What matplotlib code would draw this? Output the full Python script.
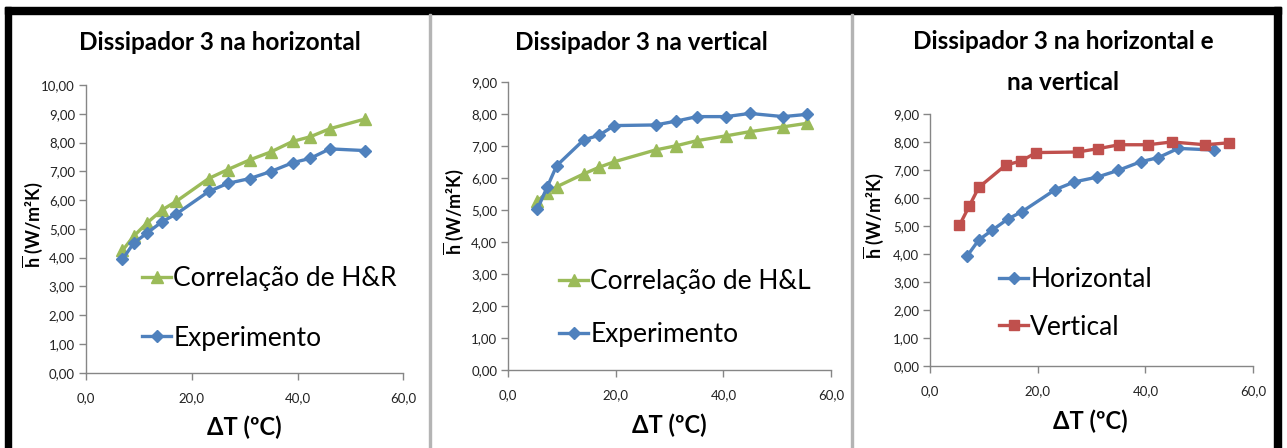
import matplotlib
matplotlib.use("Agg")
import matplotlib.pyplot as plt
from matplotlib.ticker import FuncFormatter, MultipleLocator
from matplotlib.patches import Rectangle

plt.rcParams['font.family'] = ['Lato', 'DejaVu Sans']
plt.rcParams['mathtext.fontset'] = 'custom'
plt.rcParams['mathtext.rm'] = 'Lato'
plt.rcParams['mathtext.bf'] = 'Lato:bold'

# ---- data ----
dt_horiz = [6.9, 9.0, 11.5, 14.4, 17.1, 23.2, 26.8, 31.0, 34.9, 39.1, 42.4, 46.1, 52.8]
h_exp_horiz = [3.94, 4.50, 4.85, 5.25, 5.52, 6.30, 6.58, 6.75, 6.99, 7.30, 7.45, 7.78, 7.72]
h_hr_horiz = [4.25, 4.74, 5.20, 5.66, 5.96, 6.75, 7.06, 7.40, 7.67, 8.04, 8.20, 8.48, 8.82]

dt_vert = [5.4, 7.2, 9.0, 14.0, 16.9, 19.7, 27.4, 31.2, 35.1, 40.5, 44.9, 51.1, 55.5]
h_exp_vert = [5.02, 5.70, 6.38, 7.18, 7.33, 7.63, 7.65, 7.77, 7.91, 7.91, 8.01, 7.91, 7.98]
h_hl_vert = [5.28, 5.53, 5.72, 6.12, 6.33, 6.50, 6.87, 7.00, 7.16, 7.31, 7.44, 7.59, 7.70]

titles = ["Dissipador 3 na horizontal",
          "Dissipador 3 na vertical",
          "Dissipador 3 na horizontal e\nna vertical"]
xlabel = "ΔT (ºC)"
ylabel = r"$\overline{\mathbf{h}}$ (W/m²K)"

BLUE = "#4F81BD"
GREEN = "#9BBB59"
RED = "#C0504D"
SPINE = "#868686"

W, H = 1287, 448
fig = plt.figure(figsize=(W / 100, H / 100), dpi=100)


def fx(px):
    return px / W


def fy(py):
    return 1 - py / H


def make_axes(left, right, top, bottom):
    return fig.add_axes([fx(left), fy(bottom), fx(right - left), (bottom - top) / H])


comma = FuncFormatter(lambda v, p: f"{v:.2f}".replace(".", ","))
comma1 = FuncFormatter(lambda v, p: f"{v:.1f}".replace(".", ","))


def style(ax, ymax):
    ax.set_xlim(0, 60)
    ax.set_ylim(0, ymax)
    ax.xaxis.set_major_locator(MultipleLocator(20))
    ax.yaxis.set_major_locator(MultipleLocator(1))
    ax.xaxis.set_major_formatter(comma1)
    ax.yaxis.set_major_formatter(comma)
    for s in ("top", "right"):
        ax.spines[s].set_visible(False)
    for s in ("left", "bottom"):
        ax.spines[s].set_color(SPINE)
        ax.spines[s].set_linewidth(1.0)
    ax.tick_params(axis="both", direction="out", length=5, width=1, color=SPINE,
                   labelsize=9.5, labelcolor="#222222")
    ax.tick_params(axis="x", pad=9)
    ax.tick_params(axis="y", pad=3)
    ax.set_facecolor("none")


line_kw = dict(linewidth=2.4, solid_joinstyle="round")
leg_kw = dict(loc="upper left", bbox_transform=fig.transFigure, frameon=False,
              fontsize=19, handlelength=1.1, handletextpad=0.08, borderpad=0)

# Panel 1: horizontal
ax1 = make_axes(86, 403.3, 85, 372.7)
g1, = ax1.plot(dt_horiz, h_hr_horiz, color=GREEN, marker="^", markersize=8.5, **line_kw)
b1, = ax1.plot(dt_horiz, h_exp_horiz, color=BLUE, marker="D", markersize=6.5, **line_kw)
style(ax1, 10)
ax1.legend([g1, b1], ["Correlação de H&R", "Experimento"],
           bbox_to_anchor=(fx(129), fy(253)), labelspacing=1.3, **leg_kw)

# Panel 2: vertical
ax2 = make_axes(508.3, 831, 81.7, 370)
g2, = ax2.plot(dt_vert, h_hl_vert, color=GREEN, marker="^", markersize=8.5, **line_kw)
b2, = ax2.plot(dt_vert, h_exp_vert, color=BLUE, marker="D", markersize=6.5, **line_kw)
style(ax2, 9)
ax2.legend([g2, b2], ["Correlação de H&L", "Experimento"],
           bbox_to_anchor=(fx(546), fy(256)), labelspacing=1.07, **leg_kw)

# Panel 3: both orientations
ax3 = make_axes(930.3, 1253, 114.3, 365.7)
b3, = ax3.plot(dt_horiz, h_exp_horiz, color=BLUE, marker="D", markersize=6.5, **line_kw)
r3, = ax3.plot(dt_vert, h_exp_vert, color=RED, marker="s", markersize=7.5, **line_kw)
style(ax3, 9)
ax3.legend([b3, r3], ["Horizontal", "Vertical"],
           bbox_to_anchor=(fx(986), fy(254)), labelspacing=0.85, **leg_kw)

# titles
title_kw = dict(ha="center", va="center", fontsize=17.5, fontweight="bold", color="black")
fig.text(fx(220), fy(43), titles[0], **title_kw)
fig.text(fx(641), fy(43), titles[1], **title_kw)
fig.text(fx(1063), fy(62), titles[2], linespacing=1.9, **title_kw)

# axis labels
xl_kw = dict(ha="center", va="center", fontsize=17, fontweight="bold", color="black")
fig.text(fx(244), fy(427), xlabel, **xl_kw)
fig.text(fx(669), fy(425), xlabel, **xl_kw)
fig.text(fx(1090), fy(421), xlabel, **xl_kw)

yl_kw = dict(ha="center", va="center", fontsize=13, fontweight="bold", rotation=90, color="black")
fig.text(fx(33), fy(225), ylabel, **yl_kw)
fig.text(fx(454), fy(212), ylabel, **yl_kw)
fig.text(fx(874), fy(216), ylabel, **yl_kw)

# frame: black top/left/right bands and grey separators
frame = [
    Rectangle((fx(5), fy(14)), fx(1281 - 5), 7 / H, color="black"),
    Rectangle((fx(5), 0), fx(6), fy(7), color="black"),
    Rectangle((fx(1274), 0), fx(7), fy(7), color="black"),
    Rectangle((fx(428.5), 0), fx(2), fy(14), color="#B4B4B4"),
    Rectangle((fx(850.7), 0), fx(2), fy(14), color="#B4B4B4"),
]
for p in frame:
    p.set_transform(fig.transFigure)
    fig.patches.append(p)

fig.savefig("out.png", dpi=100, facecolor="white")
